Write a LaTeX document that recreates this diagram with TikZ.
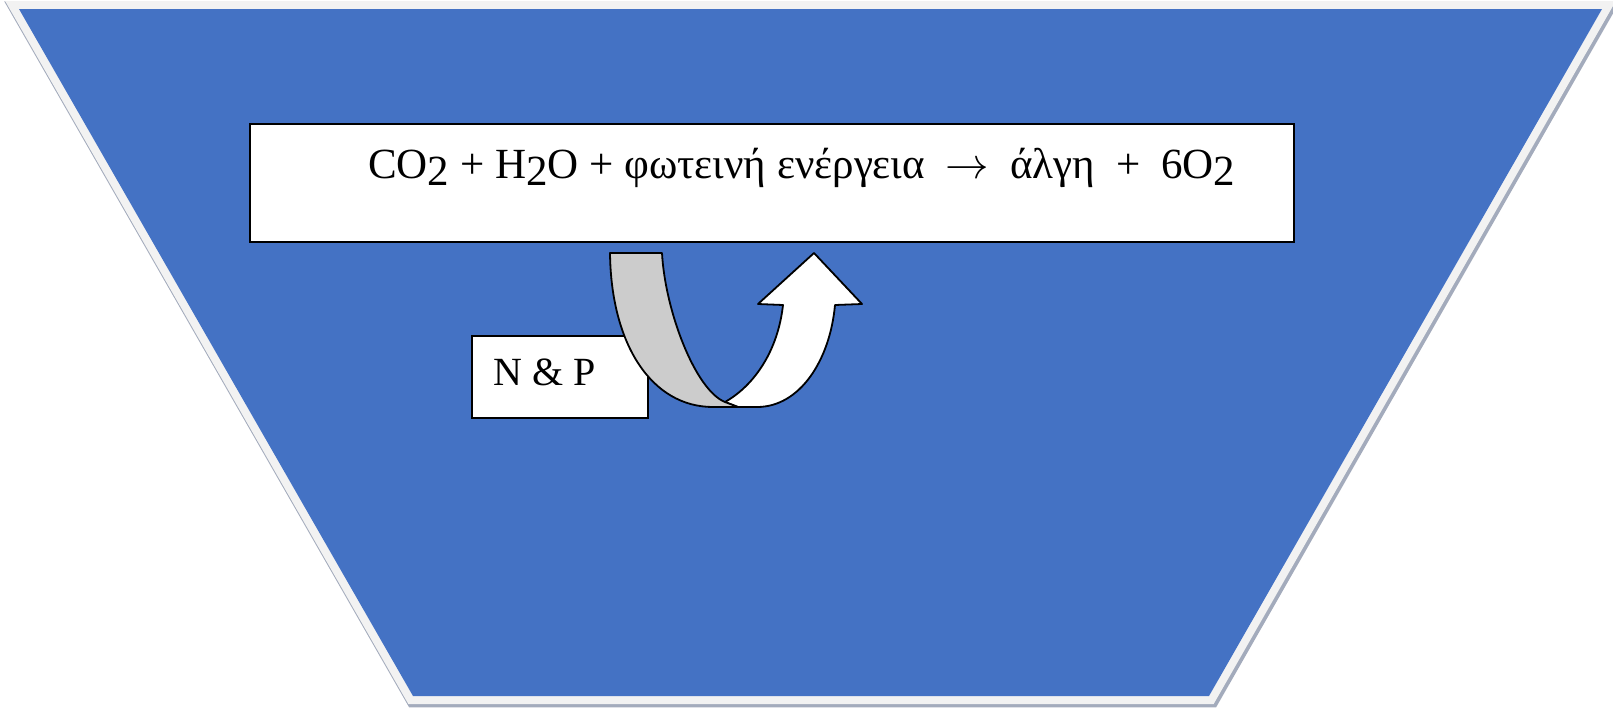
\documentclass[tikz,border=0pt]{standalone}
\usepackage{fontspec}
\setmainfont{Liberation Serif}
\definecolor{trapblue}{HTML}{4472C4}
\definecolor{rimgray}{HTML}{F2F2F2}
\definecolor{shadowgray}{HTML}{A3ABBC}
\definecolor{bandgray}{HTML}{CCCCCC}
\newcommand{\subtwo}{\lower7pt\hbox{2}}
\newcommand{\gapsp}{\hspace{21pt}}
\newcommand{\bigarrow}{\scalebox{1.75}{$\rightarrow$}}
\tikzset{
  whitebox/.style={draw=black, fill=white, inner sep=0pt},
  arrowpart/.style={draw=black, line width=1.8pt, line join=round},
}
\begin{document}
\begin{tikzpicture}[x=1pt,y=-1pt]
\useasboundingbox (0,0) rectangle (1613,707);
% trapezoid with rim and shadow
\draw[shadowgray, line width=19pt, line join=miter, shift={(1.6,1.8)}] (19,9) -- (1602,9) -- (1209,696) -- (413,696) -- cycle;
\draw[rimgray, line width=16pt, line join=miter] (19,9) -- (1602,9) -- (1209,696) -- (413,696) -- cycle;
\fill[trapblue] (19,9) -- (1602,9) -- (1209,696) -- (413,696) -- cycle;
% equation box
\node[whitebox, line width=2.2pt, minimum width=1044pt, minimum height=118pt] (eqbox) at (772,183) {};
\node[anchor=base west, inner sep=0pt, font=\fontsize{43}{52}\selectfont] (eq) at (368,178)
  {CO\subtwo{} + H\subtwo{}O + φωτεινή ενέργεια\gapsp\bigarrow\gapsp άλγη\gapsp+\gapsp 6O\subtwo};
% N & P box
\node[whitebox, line width=1.4pt, minimum width=176pt, minimum height=82pt] (npbox) at (560,377) {};
\node[anchor=base west, inner sep=0pt, font=\fontsize{40}{48}\selectfont] (np) at (493,385) {N \& P};
% curved up arrow: white front part
\draw[arrowpart, fill=white] (725,402) .. controls (755,385) and (778,350) .. (783,305)
  -- (758,304) -- (814,253) -- (862,304) -- (835,305)
  .. controls (830,360) and (800,407) .. (757,407) -- (738,407) -- cycle;
% gray back part
\draw[arrowpart, fill=bandgray] (610,253) -- (662,253)
  .. controls (665,310) and (695,390) .. (725,402) -- (738,407) -- (713,407)
  .. controls (652,407) and (611,345) .. (610,253) -- cycle;
\end{tikzpicture}
\end{document}
